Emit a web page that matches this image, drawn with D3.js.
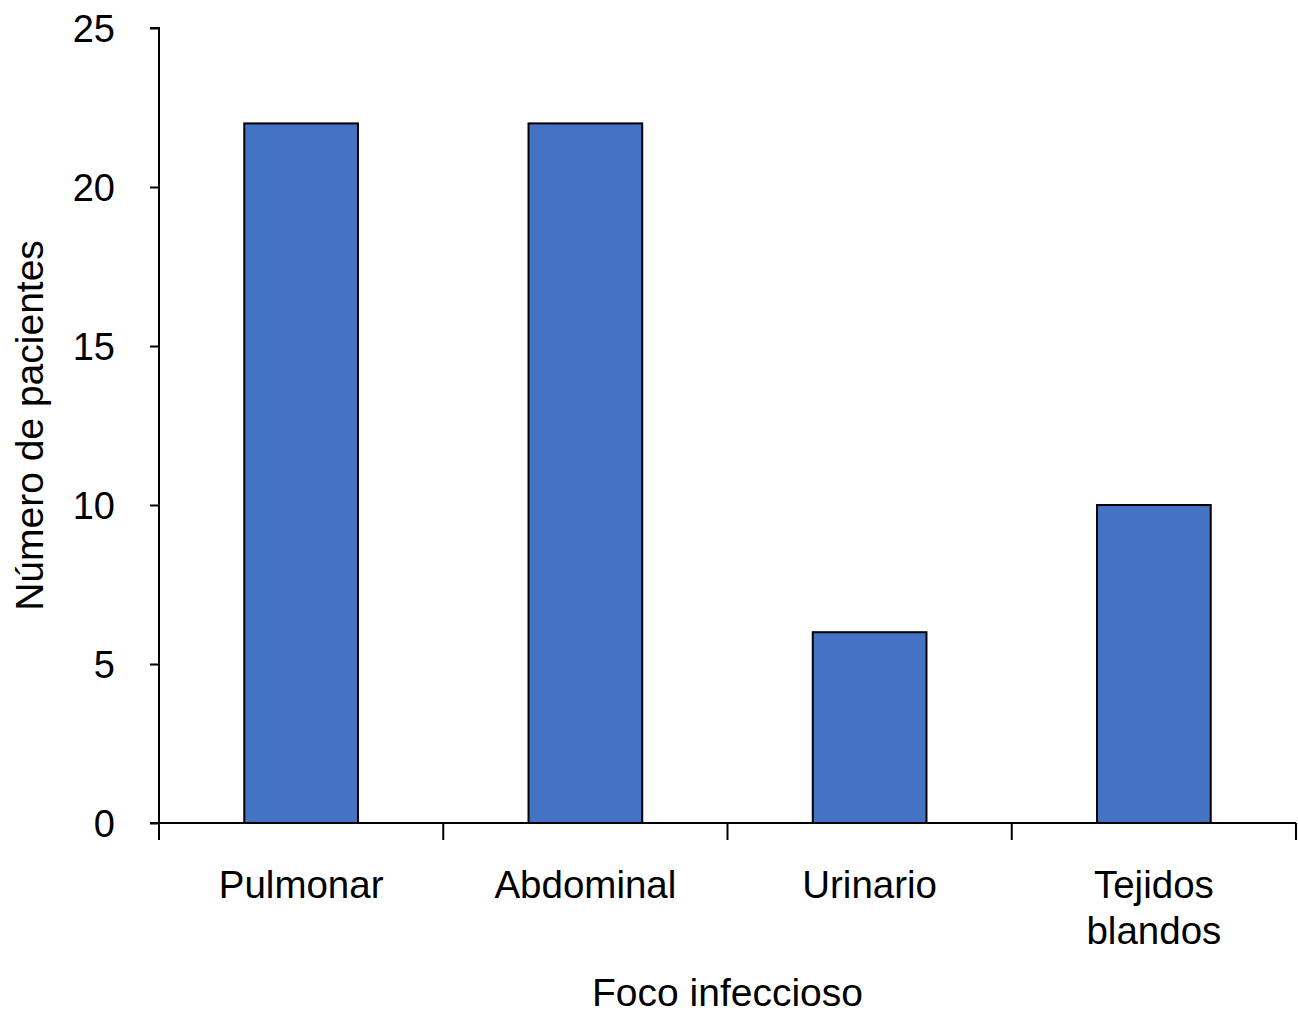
<!DOCTYPE html>
<html>
<head>
<meta charset="utf-8">
<script src="https://cdn.jsdelivr.net/npm/d3@7/dist/d3.min.js"></script>
<style>
  html, body { margin: 0; padding: 0; background: #fff; }
  svg { display: block; }
  text { font-family: "Liberation Sans", Arial, Helvetica, sans-serif; fill: #000; }
</style>
</head>
<body>
<svg id="chart" width="1298" height="1024"></svg>
<script>
const categories = [["Pulmonar"], ["Abdominal"], ["Urinario"], ["Tejidos", "blandos"]];
const categoryKeys = ["Pulmonar", "Abdominal", "Urinario", "Tejidos blandos"];
const values = [22, 22, 6, 10];
const yTicks = [0, 5, 10, 15, 20, 25];
const yTitle = "Número de pacientes";
const xTitle = "Foco infeccioso";

const svg = d3.select("#chart");
const mLeft = 159, mRight = 1296, mTop = 28, mBottom = 823;

const x = d3.scaleBand().domain(categoryKeys).range([mLeft, mRight]).paddingInner(0.6).paddingOuter(0.3);
const y = d3.scaleLinear().domain([0, 25]).range([mBottom, mTop]);

// bars
svg.append("g").selectAll("rect").data(values).join("rect")
  .attr("x", (d, i) => x(categoryKeys[i]))
  .attr("y", d => y(d))
  .attr("width", x.bandwidth())
  .attr("height", d => y(0) - y(d))
  .attr("fill", "#4472C4")
  .attr("stroke", "#000")
  .attr("stroke-width", 2);

// y axis
const yAxis = d3.axisLeft(y).tickValues(yTicks).tickSize(9).tickPadding(35).tickFormat(d3.format("d"));
const gy = svg.append("g").attr("transform", `translate(${mLeft},0)`).call(yAxis);
gy.select(".domain").attr("stroke-width", 2).attr("d", `M-9,${mTop}H0V${mBottom}H-9`);
gy.selectAll(".tick line").attr("stroke-width", 2);
gy.selectAll(".tick text").style("font-size", "38px").attr("dy", "0.35em")
  .style("font-family", '"Liberation Sans", Arial, sans-serif');

// x axis line and boundary ticks
const step = x.step();
const boundaries = categoryKeys.map(c => x(c) - step * x.paddingInner() / 2).concat([mRight]);
svg.append("line").attr("x1", mLeft - 9).attr("x2", mRight).attr("y1", mBottom).attr("y2", mBottom)
  .attr("stroke", "#000").attr("stroke-width", 2);
svg.append("g").selectAll("line").data(boundaries).join("line")
  .attr("x1", d => d).attr("x2", d => d).attr("y1", mBottom).attr("y2", mBottom + 17)
  .attr("stroke", "#000").attr("stroke-width", 2);

// category labels
const labels = svg.append("g").selectAll("text").data(categories).join("text")
  .attr("text-anchor", "middle")
  .style("font-size", "38.5px")
  .attr("transform", (d, i) => `translate(${x(categoryKeys[i]) + x.bandwidth() / 2},898)`);
labels.selectAll("tspan").data(d => d).join("tspan")
  .attr("x", 0).attr("y", (d, j) => j * 46).text(d => d);

// titles
svg.append("text").attr("x", (mLeft + mRight) / 2).attr("y", 1006)
  .attr("text-anchor", "middle").style("font-size", "39px").text(xTitle);
svg.append("text").attr("transform", `translate(43,${(mTop + mBottom) / 2}) rotate(-90)`)
  .attr("text-anchor", "middle").style("font-size", "39px").text(yTitle);
</script>
</body>
</html>
